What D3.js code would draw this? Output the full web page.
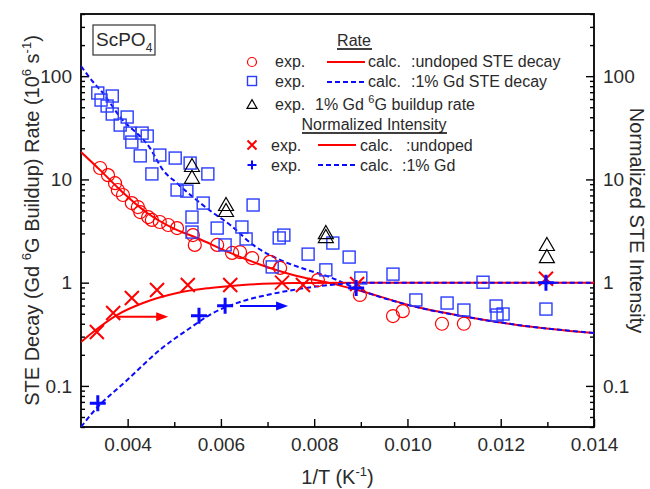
<!DOCTYPE html>
<html>
<head>
<meta charset="utf-8">
<script src="https://cdn.jsdelivr.net/npm/d3@7"></script>
<style>
    body { margin: 0; background: #fff; }
    svg { font-family: "Liberation Sans", Arial, sans-serif; }
</style>
</head>
<body>
<div id="chart"></div>
<script>
// --- data: [1/T (K^-1), value] ---
const undopedRateExp = [
    [0.00341, 12.9], [0.00358, 11.0], [0.00373, 9.2], [0.00379, 7.9], [0.00390, 7.06],
    [0.00409, 5.9], [0.00422, 5.4], [0.00427, 4.83], [0.00444, 4.32], [0.00452, 4.05],
    [0.00469, 3.87], [0.00487, 3.62], [0.00506, 3.38], [0.00540, 2.89], [0.00544, 2.32],
    [0.00592, 2.32], [0.00624, 1.94], [0.00641, 1.98], [0.00667, 1.73], [0.00705, 1.59],
    [0.00727, 1.39], [0.00808, 1.06], [0.00898, 0.76], [0.00969, 0.475], [0.00990, 0.53],
    [0.01074, 0.40], [0.01121, 0.40]
];
const gdRateExp = [
    [0.00336, 68.7], [0.00343, 58.7], [0.00367, 64.2], [0.00356, 51.4], [0.00367, 43.0],
    [0.00399, 40.2], [0.00384, 33.6], [0.00405, 28.1], [0.00409, 23.0], [0.00431, 28.1],
    [0.00442, 26.3], [0.00469, 17.2], [0.00427, 16.9], [0.00502, 16.1], [0.00534, 14.4],
    [0.00572, 11.3], [0.00452, 11.3], [0.00506, 7.9], [0.00527, 7.7], [0.00562, 5.9],
    [0.00538, 4.32], [0.00669, 5.65], [0.00592, 3.38], [0.00645, 3.46], [0.00538, 3.09],
    [0.00609, 2.32], [0.00654, 2.65], [0.00725, 2.71], [0.00735, 2.89], [0.00787, 1.89],
    [0.00840, 2.42], [0.00875, 1.77], [0.00825, 1.33], [0.00710, 1.42], [0.00900, 1.11],
    [0.00969, 1.21], [0.01018, 0.68], [0.01085, 0.635], [0.01121, 0.543], [0.01162, 1.01],
    [0.01190, 0.594], [0.01192, 0.486], [0.01205, 0.497], [0.01297, 0.555]
];
const gdBuildupExp = [
    [0.00538, 13.8], [0.00538, 10.6], [0.00611, 5.78], [0.00611, 5.06],
    [0.00825, 3.09], [0.00825, 2.83], [0.01299, 2.37], [0.01299, 1.81]
];
const undopedIntExp = [
    [0.00334, 0.333], [0.00369, 0.508], [0.00409, 0.71], [0.00463, 0.85], [0.00529, 0.95],
    [0.00620, 0.95], [0.00731, 1.0], [0.00776, 0.95], [0.00892, 0.97], [0.01297, 1.09]
];
const gdIntExp = [
    [0.00336, 0.068], [0.00553, 0.478], [0.00609, 0.597], [0.00890, 0.89], [0.01297, 1.0]
];

// calculated curves
const undopedRateCalc = [
    [0.00300, 18.4], [0.00341, 12.3], [0.00384, 7.9], [0.00442, 4.73], [0.00497, 3.38],
    [0.00549, 2.71], [0.00620, 1.94], [0.00699, 1.42], [0.00763, 1.16], [0.00834, 0.99],
    [0.00892, 0.85], [0.01020, 0.58], [0.01128, 0.465], [0.01235, 0.39], [0.01400, 0.325]
];
const gdRateCalc = [
    [0.00300, 125], [0.00326, 87.8], [0.00345, 70.3], [0.00384, 40.2], [0.00448, 20.1],
    [0.00476, 12.3], [0.00506, 9.2], [0.00540, 6.75], [0.00581, 4.83], [0.00620, 3.62],
    [0.00669, 2.32], [0.00727, 1.66], [0.00785, 1.33], [0.00834, 1.13], [0.00892, 0.87],
    [0.01020, 0.58], [0.01128, 0.465], [0.01235, 0.39], [0.01400, 0.325]
];
const undopedIntCalc = [
    [0.00300, 0.266], [0.00326, 0.333], [0.00377, 0.486], [0.00433, 0.635], [0.00506, 0.794],
    [0.00577, 0.888], [0.00647, 0.95], [0.00755, 0.99], [0.00900, 1.0], [0.01400, 1.0]
];
const gdIntCalc = [
    [0.00300, 0.040], [0.00326, 0.0559], [0.00399, 0.114], [0.00469, 0.223], [0.00534, 0.364],
    [0.00583, 0.508], [0.00641, 0.65], [0.00699, 0.76], [0.00755, 0.85], [0.00834, 0.95],
    [0.00920, 1.0], [0.01400, 1.0]
];

// arrows pointing to the right-hand axis
const redArrow = [[0.00379, 0.468], [0.00487, 0.468]];
const blueArrow = [[0.00641, 0.594], [0.00744, 0.594]];

const xTicks = [0.004, 0.006, 0.008, 0.010, 0.012, 0.014];
const xMinorTicks = [0.005, 0.007, 0.009, 0.011, 0.013];
const yTicks = [0.1, 1, 10, 100];

// --- layout ---
const W = 650, H = 489;
const M = { left: 81, right: 594, top: 14, bottom: 427 };
const RED = '#ff0000', BLUE = '#0a0aff', SQ = '#2a3cff', TXT = '#2a2a2a';

const svg = d3.select('#chart').append('svg')
    .attr('width', W)
    .attr('height', H);

const x = d3.scaleLinear().domain([0.003, 0.014]).range([M.left, M.right]);
const y = d3.scaleLog().domain([0.04, 400]).range([M.bottom, M.top]);

svg.append('defs').append('clipPath').attr('id', 'clip')
    .append('rect')
    .attr('x', M.left).attr('y', M.top)
    .attr('width', M.right - M.left).attr('height', M.bottom - M.top);

// axes
function styleAxis(g) {
    g.select('.domain').remove();
    g.selectAll('.tick line').attr('stroke', '#000').attr('stroke-width', 1.4);
    g.selectAll('.tick text').attr('fill', TXT).attr('font-size', 19);
}

const yMinor = y.ticks().filter(v => !yTicks.includes(v));
const fmt = d => d3.format('~g')(d);

svg.append('g')
    .attr('transform', `translate(0,${M.bottom})`)
    .call(d3.axisBottom(x).tickValues(xTicks).tickSize(-8).tickPadding(11)
        .tickFormat(d3.format('.3f')))
    .call(styleAxis);
svg.append('g')
    .attr('transform', `translate(0,${M.bottom})`)
    .call(d3.axisBottom(x).tickValues(xMinorTicks).tickSize(-5).tickFormat(''))
    .call(styleAxis);

[[d3.axisLeft, M.left], [d3.axisRight, M.right]].forEach(([axis, pos]) => {
    svg.append('g')
        .attr('transform', `translate(${pos},0)`)
        .call(axis(y).tickValues(yTicks).tickSize(-8).tickPadding(9).tickFormat(fmt))
        .call(styleAxis);
    svg.append('g')
        .attr('transform', `translate(${pos},0)`)
        .call(axis(y).tickValues(yMinor).tickSize(-4).tickFormat(''))
        .call(styleAxis);
});

svg.append('rect')
    .attr('x', M.left).attr('y', M.top)
    .attr('width', M.right - M.left).attr('height', M.bottom - M.top)
    .attr('fill', 'none')
    .attr('stroke', '#000')
    .attr('stroke-width', 1.8);

// axis titles
const xt = svg.append('text')
    .attr('x', (M.left + M.right) / 2)
    .attr('y', 484)
    .attr('text-anchor', 'middle')
    .attr('font-size', 20)
    .attr('fill', TXT);
xt.append('tspan').text('1/T (K');
xt.append('tspan').attr('font-size', 13).attr('dy', -8).text('-1');
xt.append('tspan').attr('dy', 8).text(')');

const yt = svg.append('text')
    .attr('transform', `translate(39,${(M.top + M.bottom) / 2}) rotate(-90)`)
    .attr('text-anchor', 'middle')
    .attr('font-size', 20)
    .attr('fill', TXT);
yt.append('tspan').text('STE Decay (Gd ');
yt.append('tspan').attr('font-size', 13).attr('dy', -8).text('6');
yt.append('tspan').attr('dy', 8).text('G Buildup) Rate (10');
yt.append('tspan').attr('font-size', 13).attr('dy', -8).text('6');
yt.append('tspan').attr('dy', 8).text(' s');
yt.append('tspan').attr('font-size', 13).attr('dy', -8).text('-1');
yt.append('tspan').attr('dy', 8).text(')');

svg.append('text')
    .attr('transform', `translate(630,${(M.top + M.bottom) / 2}) rotate(90)`)
    .attr('text-anchor', 'middle')
    .attr('font-size', 20)
    .attr('fill', TXT)
    .text('Normalized STE Intensity');

// plot area
const plot = svg.append('g').attr('clip-path', 'url(#clip)');

const line = d3.line()
    .x(d => x(d[0]))
    .y(d => y(d[1]))
    .curve(d3.curveMonotoneX);

function drawCurve(data, color, dashed) {
    plot.append('path')
        .datum(data)
        .attr('d', line)
        .attr('fill', 'none')
        .attr('stroke', color)
        .attr('stroke-width', 2)
        .attr('stroke-dasharray', dashed ? '5,3' : null);
}

// marker shapes
function circleMark(g, px, py, r) {
    g.append('circle').attr('cx', px).attr('cy', py).attr('r', r)
        .attr('fill', 'none').attr('stroke', RED).attr('stroke-width', 1.2);
}
function squareMark(g, px, py, s) {
    g.append('rect').attr('x', px - s / 2).attr('y', py - s / 2)
        .attr('width', s).attr('height', s)
        .attr('fill', 'none').attr('stroke', SQ).attr('stroke-width', 1.4);
}
function triMark(g, px, py, w) {
    const h = w * 0.87;
    g.append('path')
        .attr('d', `M${px},${py - h / 2}L${px + w / 2},${py + h / 2}L${px - w / 2},${py + h / 2}Z`)
        .attr('fill', 'none').attr('stroke', '#000').attr('stroke-width', 1.2);
}
function crossMark(g, px, py, s) {
    g.append('path')
        .attr('d', `M${px - s / 2},${py - s / 2}L${px + s / 2},${py + s / 2}M${px - s / 2},${py + s / 2}L${px + s / 2},${py - s / 2}`)
        .attr('stroke', RED).attr('stroke-width', 2);
}
function plusMark(g, px, py, s, w) {
    g.append('path')
        .attr('d', `M${px - s / 2},${py}L${px + s / 2},${py}M${px},${py - s / 2}L${px},${py + s / 2}`)
        .attr('stroke', BLUE).attr('stroke-width', w);
}

const pts = svg.append('g');
undopedRateExp.forEach(d => circleMark(pts, x(d[0]), y(d[1]), 6.5));
gdRateExp.forEach(d => squareMark(pts, x(d[0]), y(d[1]), 12));
gdBuildupExp.forEach(d => triMark(pts, x(d[0]), y(d[1]), 15));

drawCurve(undopedRateCalc, RED, false);
drawCurve(gdRateCalc, BLUE, true);
drawCurve(undopedIntCalc, RED, false);
drawCurve(gdIntCalc, BLUE, true);

undopedIntExp.forEach(d => crossMark(pts, x(d[0]), y(d[1]), 14));
gdIntExp.forEach(d => plusMark(pts, x(d[0]), y(d[1]), 16, 3));

// arrows
function drawArrow(a, color) {
    const x0 = x(a[0][0]), x1 = x(a[1][0]), py = y(a[0][1]);
    svg.append('line')
        .attr('x1', x0).attr('x2', x1 - 10)
        .attr('y1', py).attr('y2', py)
        .attr('stroke', color).attr('stroke-width', 2);
    svg.append('path')
        .attr('d', `M${x1},${py}L${x1 - 12},${py - 4.5}L${x1 - 12},${py + 4.5}Z`)
        .attr('fill', color);
}
drawArrow(redArrow, RED);
drawArrow(blueArrow, BLUE);

// sample box
svg.append('rect')
    .attr('x', 93).attr('y', 25).attr('width', 62).attr('height', 30)
    .attr('fill', '#fff').attr('stroke', '#333').attr('stroke-width', 1.2);
const sc = svg.append('text')
    .attr('x', 96).attr('y', 46)
    .attr('font-size', 19)
    .attr('fill', TXT);
sc.append('tspan').text('ScPO');
sc.append('tspan').attr('font-size', 12).attr('dy', 6).text('4');

// legend
const leg = svg.append('g').attr('font-size', 16).attr('fill', TXT);

function heading(label, cx, by, x0, x1) {
    leg.append('text').attr('x', cx).attr('y', by).attr('text-anchor', 'middle').text(label);
    leg.append('line').attr('x1', x0).attr('x2', x1).attr('y1', by + 3).attr('y2', by + 3)
        .attr('stroke', '#000').attr('stroke-width', 1.4);
}
function legLine(x0, x1, yy, color, dashed) {
    leg.append('line').attr('x1', x0).attr('x2', x1).attr('y1', yy).attr('y2', yy)
        .attr('stroke', color).attr('stroke-width', 2)
        .attr('stroke-dasharray', dashed ? '5,3' : null);
}

heading('Rate', 354, 46, 337, 372);
circleMark(leg, 252, 62, 4.5);
leg.append('text').attr('x', 275).attr('y', 67).text('exp.');
legLine(327, 365, 62, RED, false);
leg.append('text').attr('x', 368).attr('y', 67).text('calc.');
leg.append('text').attr('x', 411).attr('y', 67).text(':undoped STE decay');

squareMark(leg, 252, 81, 9);
leg.append('text').attr('x', 275).attr('y', 87).text('exp.');
legLine(327, 365, 82, BLUE, true);
leg.append('text').attr('x', 368).attr('y', 87).text('calc.');
leg.append('text').attr('x', 411).attr('y', 87).text(':1% Gd STE decay');

triMark(leg, 252, 104, 10);
const r3 = leg.append('text').attr('x', 275).attr('y', 110);
r3.append('tspan').text('exp.');
r3.append('tspan').attr('x', 315).text('1% Gd ');
r3.append('tspan').attr('font-size', 11).attr('dy', -7).text('6');
r3.append('tspan').attr('dy', 7).text('G buildup rate');

heading('Normalized Intensity', 374, 130, 302, 447);
crossMark(leg, 252, 145, 9);
leg.append('text').attr('x', 271).attr('y', 151).text('exp.');
legLine(318, 356, 145, RED, false);
leg.append('text').attr('x', 360).attr('y', 151).text('calc.');
leg.append('text').attr('x', 406).attr('y', 151).text(':undoped');

plusMark(leg, 252, 165, 9, 2);
leg.append('text').attr('x', 271).attr('y', 171).text('exp.');
legLine(318, 356, 165, BLUE, true);
leg.append('text').attr('x', 360).attr('y', 171).text('calc.');
leg.append('text').attr('x', 402).attr('y', 171).text(':1% Gd');
</script>
</body>
</html>
